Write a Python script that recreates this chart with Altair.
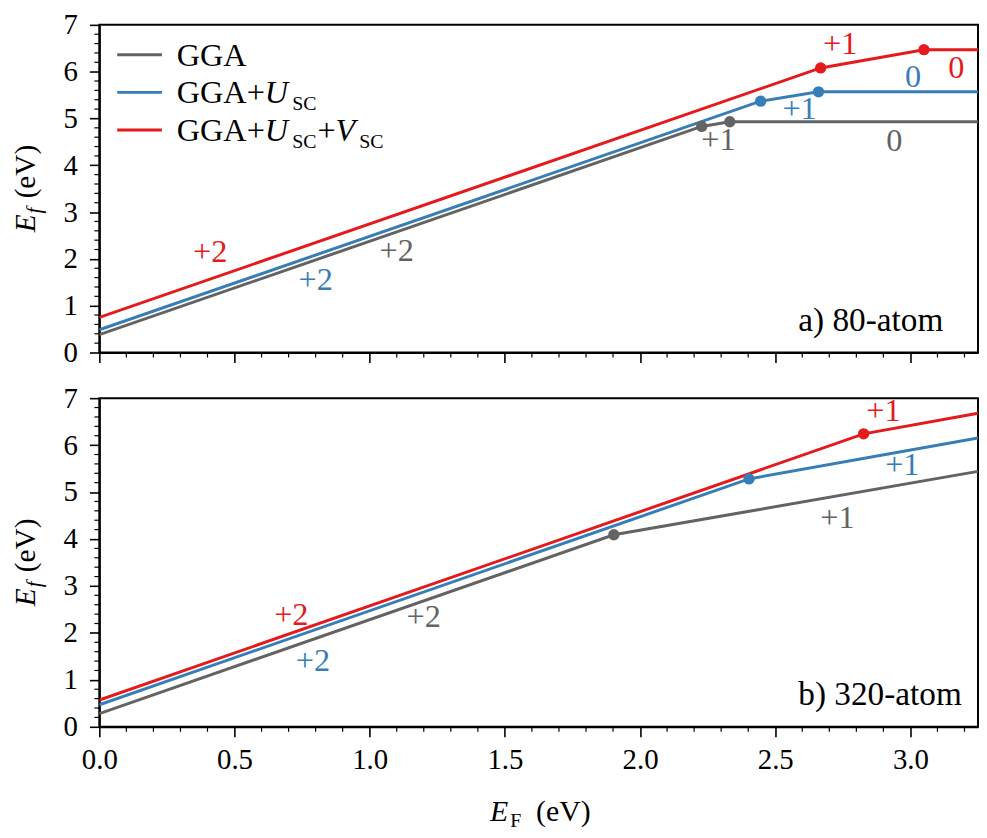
import altair as alt
import pandas as pd

FONT = "Liberation Serif"

# ---------------- data ----------------
series = ["GGA", "GGA+U_SC", "GGA+U_SC+V_SC"]
colors = ["#636363", "#377eb8", "#e41a1c"]

# panel a) 80-atom : line vertices (E_F, E_f)
a_gga_x = [0.0, 2.228, 2.332, 3.25]
a_gga_y = [0.38, 4.83, 4.93, 4.93]
a_u_x = [0.0, 2.446, 2.66, 3.25]
a_u_y = [0.485, 5.37, 5.57, 5.57]
a_uv_x = [0.0, 2.668, 3.05, 3.25]
a_uv_y = [0.75, 6.08, 6.47, 6.47]

# panel b) 320-atom
b_gga_x = [0.0, 1.903, 3.25]
b_gga_y = [0.28, 4.09, 5.44]
b_u_x = [0.0, 2.403, 3.25]
b_u_y = [0.47, 5.28, 6.15]
b_uv_x = [0.0, 2.827, 3.25]
b_uv_y = [0.57, 6.24, 6.68]

# transition-level markers
a_pt_x = [2.228, 2.332, 2.446, 2.66, 2.668, 3.05]
a_pt_y = [4.83, 4.93, 5.37, 5.57, 6.08, 6.47]
a_pt_s = ["GGA", "GGA", "GGA+U_SC", "GGA+U_SC", "GGA+U_SC+V_SC", "GGA+U_SC+V_SC"]
b_pt_x = [1.903, 2.403, 2.827]
b_pt_y = [4.09, 5.28, 6.24]
b_pt_s = ["GGA", "GGA+U_SC", "GGA+U_SC+V_SC"]

# charge-state labels
a_lab_text = ["+2", "+2", "+2", "+1", "+1", "0", "0", "+1", "0"]
a_lab_x = [0.41, 0.80, 1.10, 2.29, 2.59, 2.94, 3.01, 2.74, 3.17]
a_lab_y = [2.14, 1.55, 2.17, 4.53, 5.21, 4.52, 5.88, 6.58, 6.08]
a_lab_s = ["GGA+U_SC+V_SC", "GGA+U_SC", "GGA", "GGA", "GGA+U_SC", "GGA",
           "GGA+U_SC", "GGA+U_SC+V_SC", "GGA+U_SC+V_SC"]
b_lab_text = ["+2", "+2", "+2", "+1", "+1", "+1"]
b_lab_x = [0.71, 0.79, 1.20, 2.73, 2.97, 2.90]
b_lab_y = [2.39, 1.41, 2.33, 4.44, 5.57, 6.72]
b_lab_s = ["GGA+U_SC+V_SC", "GGA+U_SC", "GGA", "GGA", "GGA+U_SC", "GGA+U_SC+V_SC"]

x_ticks = [0.0, 0.5, 1.0, 1.5, 2.0, 2.5, 3.0]
y_ticks = [0, 1, 2, 3, 4, 5, 6, 7]
x_minor = [round(i * 0.1, 1) for i in range(33) if i % 5 != 0]
y_minor = [round(i * 0.2, 1) for i in range(36) if i % 5 != 0]

# ---------------- layout constants ----------------
W = 885
H1 = 330
H2 = 331
GAP = 46
TXT = 32.5
LEG = 32.5
SUB = 20
TITLE = 29.5

# approximate Times/Liberation Serif advance widths (em)
ADV = {"G": 0.722, "A": 0.722, "+": 0.564, "U": 0.722, "V": 0.611, "S": 0.556,
       "C": 0.667, "E": 0.611, "F": 0.556, "f": 0.278, "(": 0.333, ")": 0.333,
       "e": 0.444, " ": 0.25}


def adv(s, size):
    return sum(ADV.get(c, 0.5) for c in s) * size


one = pd.DataFrame({"k": [0]})
cscale = alt.Scale(domain=series, range=colors)
xs = alt.Scale(domain=[0, 3.25], nice=False, zero=False)
ys = alt.Scale(domain=[0, 7], nice=False, zero=False)


def txt(s, x, y, size, italic=False, color="black", angle=None, align="left",
        baseline="alphabetic"):
    kw = dict(text=s, fontSize=size, font=FONT, color=color, align=align,
              baseline=baseline)
    if italic:
        kw["fontStyle"] = "italic"
    if angle is not None:
        kw["angle"] = angle
    return alt.Chart(one).mark_text(**kw).encode(x=alt.value(x), y=alt.value(y))


def lines_df(parts):
    rows = []
    for s, xx, yy in parts:
        for a, b in zip(xx, yy):
            rows.append({"x": a, "y": b, "s": s})
    return pd.DataFrame(rows)


def panel(ldf, pdf, labdf, h, show_labels, label_text):
    xaxis = alt.Axis(values=x_ticks, format=".1f", labels=show_labels, title=None,
                     labelFlush=False, grid=False)
    yaxis = alt.Axis(values=y_ticks, format="d", title=None, grid=False)
    X = alt.X("x:Q", scale=xs, axis=xaxis)
    Y = alt.Y("y:Q", scale=ys, axis=yaxis)
    C = alt.Color("s:N", scale=cscale, legend=None)

    line = alt.Chart(ldf).mark_line(strokeWidth=3, clip=True).encode(x=X, y=Y, color=C)
    pts = alt.Chart(pdf).mark_circle(size=130, opacity=1).encode(x=X, y=Y, color=C)
    labs = alt.Chart(labdf).mark_text(font=FONT, fontSize=TXT, align="center",
                                      baseline="middle").encode(
        x=X, y=Y, text="t:N", color=C)
    xmin = alt.Chart(pd.DataFrame({"x": x_minor})).mark_rule(
        color="black", strokeWidth=1.2).encode(x=X, y=alt.value(h), y2=alt.value(h + 5))
    ymin = alt.Chart(pd.DataFrame({"y": y_minor})).mark_rule(
        color="black", strokeWidth=1.2).encode(y=Y, x=alt.value(0), x2=alt.value(-5))

    layers = [xmin, ymin, line, pts, labs]

    # panel label
    layers.append(txt(label_text, 704, h - 22, 33.5))

    # y-axis title  E_f (eV), rotated
    bx = -65
    y0 = h / 2 + 44
    layers.append(txt("E", bx, y0, TITLE, italic=True, angle=270))
    y0 -= adv("E", TITLE) + 1
    layers.append(txt("f", bx + 6, y0, 21, italic=True, angle=270))
    y0 -= adv("f", 21) + 2 + adv(" ", TITLE)
    layers.append(txt("(eV)", bx, y0, TITLE, angle=270))
    return layers


# ---------------- panel a ----------------
a_lines = lines_df([("GGA", a_gga_x, a_gga_y), ("GGA+U_SC", a_u_x, a_u_y),
                    ("GGA+U_SC+V_SC", a_uv_x, a_uv_y)])
a_pts = pd.DataFrame({"x": a_pt_x, "y": a_pt_y, "s": a_pt_s})
a_labs = pd.DataFrame({"x": a_lab_x, "y": a_lab_y, "s": a_lab_s, "t": a_lab_text})
top_layers = panel(a_lines, a_pts, a_labs, H1, False, "a) 80-atom")

# legend (hand-built for subscripts / italics)
leg_y = [30, 68, 106]
for yy, col in zip(leg_y, colors):
    top_layers.append(alt.Chart(one).mark_rule(color=col, strokeWidth=3).encode(
        x=alt.value(18), x2=alt.value(63), y=alt.value(yy)))

lx = 78
top_layers.append(txt("GGA", lx, leg_y[0] + 11, LEG))
# GGA+U_SC
x = lx
top_layers.append(txt("GGA+", x, leg_y[1] + 11, LEG)); x += adv("GGA+", LEG)
top_layers.append(txt("U", x, leg_y[1] + 11, LEG, italic=True)); x += adv("U", LEG) + 4
top_layers.append(txt("SC", x, leg_y[1] + 18, SUB))
# GGA+U_SC+V_SC
x = lx
top_layers.append(txt("GGA+", x, leg_y[2] + 11, LEG)); x += adv("GGA+", LEG)
top_layers.append(txt("U", x, leg_y[2] + 11, LEG, italic=True)); x += adv("U", LEG) + 4
top_layers.append(txt("SC", x, leg_y[2] + 18, SUB)); x += adv("SC", SUB) + 1
top_layers.append(txt("+", x, leg_y[2] + 11, LEG)); x += adv("+", LEG)
top_layers.append(txt("V", x, leg_y[2] + 11, LEG, italic=True)); x += adv("V", LEG) + 4
top_layers.append(txt("SC", x, leg_y[2] + 18, SUB))

# invisible anchor fixing the top-left corner of the layout
top_layers.append(alt.Chart(one).mark_rule(opacity=0, strokeWidth=0).encode(
    x=alt.value(-120), x2=alt.value(-120), y=alt.value(-40), y2=alt.value(-40)))

top = alt.layer(*top_layers).properties(width=W, height=H1)

# ---------------- panel b ----------------
b_lines = lines_df([("GGA", b_gga_x, b_gga_y), ("GGA+U_SC", b_u_x, b_u_y),
                    ("GGA+U_SC+V_SC", b_uv_x, b_uv_y)])
b_pts = pd.DataFrame({"x": b_pt_x, "y": b_pt_y, "s": b_pt_s})
b_labs = pd.DataFrame({"x": b_lab_x, "y": b_lab_y, "s": b_lab_s, "t": b_lab_text})
bot_layers = panel(b_lines, b_pts, b_labs, H2, True, "b) 320-atom")

# x-axis title  E_F (eV)
XT = 30
tot = adv("E", XT) + 2 + adv("F", SUB) + adv("  ", XT) + adv("(eV)", XT)
x = W / 2 - tot / 2
ty = H2 + 95
bot_layers.append(txt("E", x, ty, XT, italic=True)); x += adv("E", XT) + 2
bot_layers.append(txt("F", x, ty + 6, SUB)); x += adv("F", SUB) + adv("  ", XT)
bot_layers.append(txt("(eV)", x, ty, XT))

bottom = alt.layer(*bot_layers).properties(width=W, height=H2)

chart = alt.vconcat(top, bottom, spacing=GAP, bounds="flush").properties(
    padding={"left": -29, "top": -27, "right": 0, "bottom": 0}
).configure_view(stroke="black", strokeWidth=2).configure_axis(
    labelFont=FONT, labelFontSize=29, labelColor="black", tickColor="black",
    domainColor="black", tickWidth=1.6, domainWidth=2, tickSize=10, grid=False,
    labelOverlap=False
).configure_axisX(labelPadding=9).configure_axisY(labelPadding=12)

chart.save("out.html", embed_options={"renderer": "svg", "actions": False})
